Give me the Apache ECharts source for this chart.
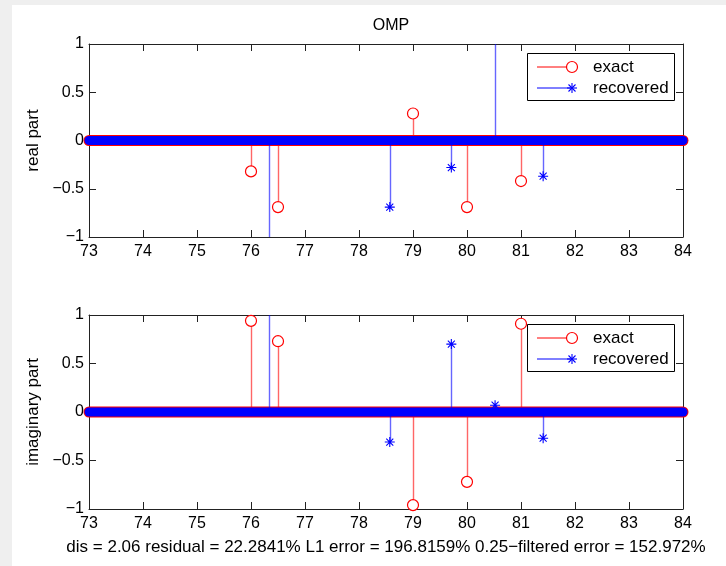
<!DOCTYPE html>
<html>
<head>
<meta charset="utf-8">
<script src="https://cdn.jsdelivr.net/npm/echarts@6/dist/echarts.min.js"></script>
<style>
html,body{margin:0;padding:0;background:#efefef;}
#c{width:726px;height:566px;}
</style>
</head>
<body>
<div id="c"></div>
<script>
// ---- data ----
const titleText = 'OMP';
const xTicks = [73, 84];            // x range, ticks every 1
const yTicks = [-1, -0.5, 0, 0.5, 1];
const zeroSpan = [73, 84];          // dense zero-valued samples span
const exactX = [76, 76.5, 79, 80, 81];
const exactReal = [-0.32, -0.69, 0.28, -0.69, -0.42];
const exactImag = [0.94, 0.73, -0.96, -0.72, 0.91];
const recX = [76.33, 78.57, 79.71, 80.52, 81.41];
const recReal = [-1.45, -0.69, -0.28, 1.45, -0.37];
const recImag = [1.3, -0.31, 0.70, 0.07, -0.27];
const seriesNames = ['exact', 'recovered'];
const yNames = ['real part', 'imaginary part'];
const footer = 'dis = 2.06 residual = 22.2841% L1 error = 196.8159% 0.25\u2212filtered error = 152.972%';

const RED = '#ff0000', BLUE = '#0000ff';
const FONT = 'Liberation Sans, Arial, Helvetica, sans-serif';
const STAR = 'path://M0,5L10,5M5,0L5,10M1.5,1.5L8.5,8.5M8.5,1.5L1.5,8.5';

function fmt(v){ return (v < 0 ? '\u2212' : '') + Math.abs(v); }
function pairs(xs, ys){ return xs.map((x,i)=>[x, ys[i]]); }

function stemRender(color){
  return function(params, api){
    const x = api.value(0), y = api.value(1);
    const p0 = api.coord([x, 0]), p1 = api.coord([x, y]);
    const cs = params.coordSys;
    const y2 = Math.max(cs.y, Math.min(cs.y + cs.height, p1[1]));
    const px = Math.round(p0[0]) + 0.5;
    return {type:'line', shape:{x1:px, y1:p0[1], x2:px, y2:y2},
            style:{stroke:color, lineWidth:1.4, opacity:0.6}};
  };
}

const grids = [
  {left:89, top:44, width:594, height:193},
  {left:89, top:315, width:594, height:194}
];

const AX = {onZero:false, lineStyle:{color:'#222', width:1}};
const TK = {inside:true, length:7, lineStyle:{color:'#222'}};
const xAxes = [], yAxes = [], series = [];
[0,1].forEach(g=>{
  xAxes.push({
    type:'value', gridIndex:g, min:xTicks[0], max:xTicks[1], interval:1, position:'bottom',
    axisLine:AX, axisTick:TK,
    axisLabel:{color:'#000', fontSize:16, fontFamily:FONT, margin:7},
    splitLine:{show:false},
    name: g === 1 ? footer : '', nameLocation:'middle', nameGap:30,
    nameTextStyle:{color:'#000', fontSize:17, fontFamily:FONT}
  });
  xAxes.push({
    type:'value', gridIndex:g, min:xTicks[0], max:xTicks[1], interval:1, position:'top',
    axisLine:AX, axisTick:TK,
    axisLabel:{show:false}, splitLine:{show:false}
  });
  yAxes.push({
    type:'value', gridIndex:g, min:yTicks[0], max:yTicks[yTicks.length-1], interval:0.5, position:'left',
    axisLine:AX, axisTick:TK,
    axisLabel:{color:'#000', fontSize:16, fontFamily:FONT, margin:5, formatter:fmt},
    splitLine:{show:false},
    name:yNames[g], nameLocation:'middle', nameGap:43,
    nameTextStyle:{color:'#000', fontSize:17, fontFamily:FONT}
  });
  yAxes.push({
    type:'value', gridIndex:g, min:yTicks[0], max:yTicks[yTicks.length-1], interval:0.5, position:'right',
    axisLine:AX, axisTick:TK,
    axisLabel:{show:false}, splitLine:{show:false}
  });
  const xi = g*2, yi = g*2;
  const ex = g === 0 ? exactReal : exactImag;
  const rc = g === 0 ? recReal : recImag;
  // exact: dense zero band, stems, markers
  series.push({type:'line', name:seriesNames[0], xAxisIndex:xi, yAxisIndex:yi, clip:false, silent:true,
    data:zeroSpan.map(x=>[x,0]), showSymbol:false, z:2,
    lineStyle:{color:RED, width:11, cap:'round'}});
  series.push({type:'custom', name:seriesNames[0], xAxisIndex:xi, yAxisIndex:yi, z:3,
    data:pairs(exactX, ex), renderItem:stemRender(RED)});
  series.push({type:'scatter', name:seriesNames[0], xAxisIndex:xi, yAxisIndex:yi, clip:true, z:4,
    data:pairs(exactX, ex), symbol:'circle', symbolSize:11,
    itemStyle:{color:'#fff', borderColor:RED, borderWidth:1.2, opacity:1}});
  // recovered
  series.push({type:'line', name:seriesNames[1], xAxisIndex:xi, yAxisIndex:yi, clip:false, silent:true,
    data:zeroSpan.map(x=>[x,0]), showSymbol:false, z:5,
    lineStyle:{color:BLUE, width:9, cap:'round'}});
  series.push({type:'custom', name:seriesNames[1], xAxisIndex:xi, yAxisIndex:yi, z:6,
    data:pairs(recX, rc), renderItem:stemRender(BLUE)});
  series.push({type:'scatter', name:seriesNames[1], xAxisIndex:xi, yAxisIndex:yi, clip:true, z:7,
    data:pairs(recX, rc), symbol:STAR, symbolSize:10,
    itemStyle:{color:'rgba(0,0,0,0)', borderColor:BLUE, borderWidth:1.1, opacity:1}});
});

function starLines(cx, cy){
  const r = 5, d = 3.5, st = {stroke:BLUE, lineWidth:1.1};
  return [
    {type:'line', z:102, shape:{x1:cx-r, y1:cy, x2:cx+r, y2:cy}, style:st},
    {type:'line', z:102, shape:{x1:cx, y1:cy-r, x2:cx, y2:cy+r}, style:st},
    {type:'line', z:102, shape:{x1:cx-d, y1:cy-d, x2:cx+d, y2:cy+d}, style:st},
    {type:'line', z:102, shape:{x1:cx+d, y1:cy-d, x2:cx-d, y2:cy+d}, style:st}
  ];
}

function legendBox(y){
  return [
    {type:'rect', shape:{x:527.5, y:y+0.5, width:147, height:47}, z:100,
     style:{fill:'#fff', stroke:'#000', lineWidth:1}},
    {type:'line', shape:{x1:537, y1:y+14, x2:572, y2:y+14}, z:101, style:{stroke:RED, lineWidth:1}},
    {type:'circle', shape:{cx:572, cy:y+14, r:5.5}, z:102, style:{fill:'#fff', stroke:RED, lineWidth:1.2}},
    {type:'text', x:593, y:y+14, z:102, style:{text:seriesNames[0], fill:'#000', font:'17px '+FONT, verticalAlign:'middle'}},
    {type:'line', shape:{x1:537, y1:y+35, x2:572, y2:y+35}, z:101, style:{stroke:BLUE, lineWidth:1}},
    {type:'text', x:593, y:y+35, z:102, style:{text:seriesNames[1], fill:'#000', font:'17px '+FONT, verticalAlign:'middle'}}
  ].concat(starLines(572, y+35));
}

const chart = echarts.init(document.getElementById('c'), null, {renderer:'canvas'});
chart.setOption({
  backgroundColor:'#efefef',
  animation:false,
  title:{text:titleText, left:386, top:13, textAlign:'center',
         textStyle:{color:'#000', fontSize:16, fontWeight:'normal', fontFamily:FONT}},
  grid:grids,
  xAxis:xAxes,
  yAxis:yAxes,
  series:series,
  graphic:[
    {type:'rect', shape:{x:12, y:5, width:714, height:561}, z:-10, silent:true, style:{fill:'#fff'}}
  ].concat(legendBox(53), legendBox(324))
});
</script>
</body>
</html>
